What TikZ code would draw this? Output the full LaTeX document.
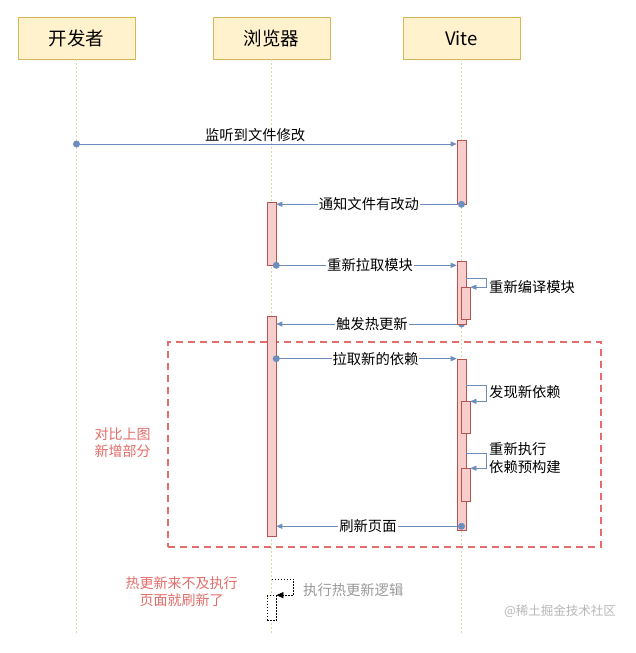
\documentclass[tikz,border=0pt]{standalone}
\usepackage{fontspec}
\setmainfont{Noto Sans CJK SC}
\usetikzlibrary{arrows.meta}
\definecolor{hdrfill}{HTML}{FFF2CC}
\definecolor{hdrline}{HTML}{D6B656}
\definecolor{lifecol}{HTML}{DCD8A0}
\definecolor{barfill}{HTML}{F8CECC}
\definecolor{barline}{HTML}{B85450}
\definecolor{msgcol}{HTML}{6C8EBF}
\definecolor{notecol}{HTML}{E26D6A}
\definecolor{graytext}{HTML}{9A9A9A}
\definecolor{marktext}{HTML}{B8B8B8}
\tikzset{
  actor/.style={draw=hdrline, fill=hdrfill, line width=0.8pt, minimum width=117pt, minimum height=42pt, inner sep=0pt, font=\fontsize{18.5}{20}\selectfont},
  lifeline/.style={draw=lifecol, line width=0.8pt, dash pattern=on 2pt off 2pt},
  actbar/.style={draw=barline, fill=barfill, line width=0.6pt, minimum width=9pt, inner sep=0pt},
  dashbar/.style={draw=black, line width=0.7pt, dash pattern=on 1.5pt off 1.5pt, fill=white, minimum width=9pt, inner sep=0pt},
  msg/.style={draw=msgcol, line width=0.7pt, -{Triangle[length=6pt,width=5pt]}},
  selfmsg/.style={draw=msgcol, line width=0.6pt, -{Triangle[length=6pt,width=5pt]}},
  dashmsg/.style={draw=black, line width=0.7pt, dash pattern=on 1.5pt off 1.5pt, -{Triangle[length=7pt,width=6pt]}},
  dotstart/.style={fill=msgcol, circle, inner sep=0pt, minimum size=7pt},
  lbl/.style={font=\fontsize{14.3}{16}\selectfont, fill=white, inner sep=1pt},
  sidelbl/.style={font=\fontsize{14.3}{18.5}\selectfont, anchor=west, align=left, inner sep=0pt},
  notelbl/.style={font=\fontsize{14}{17}\selectfont, text=notecol, align=center, inner sep=0pt},
  newbox/.style={draw=notecol, line width=2pt, dash pattern=on 7pt off 5pt, inner sep=0pt, minimum width=433pt, minimum height=205pt}
}
\begin{document}
\begin{tikzpicture}[x=1pt,y=-1pt]
\useasboundingbox (0,0) rectangle (636,653);
\fill[white] (0,0) rectangle (636,653);

% actors
\node[actor] (dev) at (76.5,38) {开发者};
\node[actor] (brw) at (271.5,38) {浏览器};
\node[actor] (vite) at (461.5,38) {Vite};

% lifelines
\coordinate (devend) at (76.5,633);
\coordinate (brwend) at (271.5,633);
\coordinate (viteend) at (461.5,633);
\draw[lifeline] (dev.south) -- (devend);
\draw[lifeline] (brw.south) -- (brwend);
\draw[lifeline] (vite.south) -- (viteend);

% new-part frame
\node[newbox] (newpart) at (384.5,444) {};
\node[notelbl] (newnote) at (122.5,443) {对比上图\\新增部分};

% dot hidden under the second Vite bar
\node[dotstart] (d4) at (461.5,324) {};

% activation bars
\node[actbar, minimum height=64pt] (v1) at (461.5,172) {};
\node[actbar, minimum height=63pt] (b1) at (271.5,233.5) {};
\node[actbar, minimum height=63pt] (v2) at (461.5,292.5) {};
\node[actbar, minimum height=32pt] (v2n) at (465.5,303.5) {};
\node[actbar, minimum height=220pt] (b2) at (271.5,426) {};
\node[actbar, minimum height=171pt] (v3) at (461.5,444.5) {};
\node[actbar, minimum height=31.3pt] (v3a) at (465.5,417.3) {};
\node[actbar, minimum height=33pt] (v3b) at (465.5,485) {};

% message 1
\node[dotstart] (d1) at (76.5,144) {};
\draw[msg] (d1.center) -- (v1.west |- d1.center)
  node[pos=0.47, above=2pt, font=\fontsize{14.3}{16}\selectfont, inner sep=0pt] (m1) {监听到文件修改};

% message 2
\node[dotstart] (d2) at (v1.south) {};
\draw[msg] (d2.center) -- (b1.east |- d2.center) node[lbl, midway] (m2) {通知文件有改动};

% message 3
\node[dotstart] (d3) at (b1.south east) {};
\draw[msg] (d3.center) -- (v2.west |- d3.center) node[lbl, pos=0.52] (m3) {重新拉取模块};

% self message: recompile
\coordinate (s1c) at (486,278);
\draw[selfmsg] (v2.east |- s1c) -- (s1c) -- (s1c |- v2n.north) -- (v2n.north east);
\node[sidelbl] (s1l) at (489,287.5) {重新编译模块};

% message 4
\draw[msg] (v2.south west |- d4.center) -- (b2.east |- d4.center) node[lbl, pos=0.47] (m4) {触发热更新};

% message 5
\node[dotstart] (d5) at (b2.east |- v3.north) {};
\draw[msg] (d5.center) -- (v3.north west) node[lbl, pos=0.55] (m5) {拉取新的依赖};

% self message: discover deps
\coordinate (s2c) at (486,385);
\draw[selfmsg] (v3.east |- s2c) -- (s2c) -- (s2c |- v3a.north) -- (v3a.north east);
\node[sidelbl] (s2l) at (489,392) {发现新依赖};

% self message: re-run prebundle
\coordinate (s3c) at (486,453);
\draw[selfmsg] (v3.east |- s3c) -- (s3c) -- (s3c |- v3b.north) -- (v3b.north east);
\node[sidelbl] (s3l) at (489,458) {重新执行\\依赖预构建};

% message 6
\node[dotstart] (d6) at ([yshift=4pt]v3.south) {};
\draw[msg] (d6.center) -- (b2.east |- d6.center) node[lbl, pos=0.505] (m6) {刷新页面};

% bottom: hot update logic never runs
\node[dashbar, minimum height=25pt] (b3) at (271.5,608) {};
\coordinate (s4a) at (271.5,579);
\coordinate (s4b) at (293.5,579);
\draw[dashmsg] (s4a) -- (s4b) -- (s4b |- b3.north) -- (b3.north east);
\node[sidelbl, text=graytext] (s4l) at (303,590) {执行热更新逻辑};
\node[notelbl] (late) at (181.5,591.5) {热更新来不及执行\\页面就刷新了};

% watermark
\node[font=\fontsize{12.5}{14}\selectfont, text=marktext, inner sep=0pt] (mark) at (560,611) {@稀土掘金技术社区};
\end{tikzpicture}
\end{document}
